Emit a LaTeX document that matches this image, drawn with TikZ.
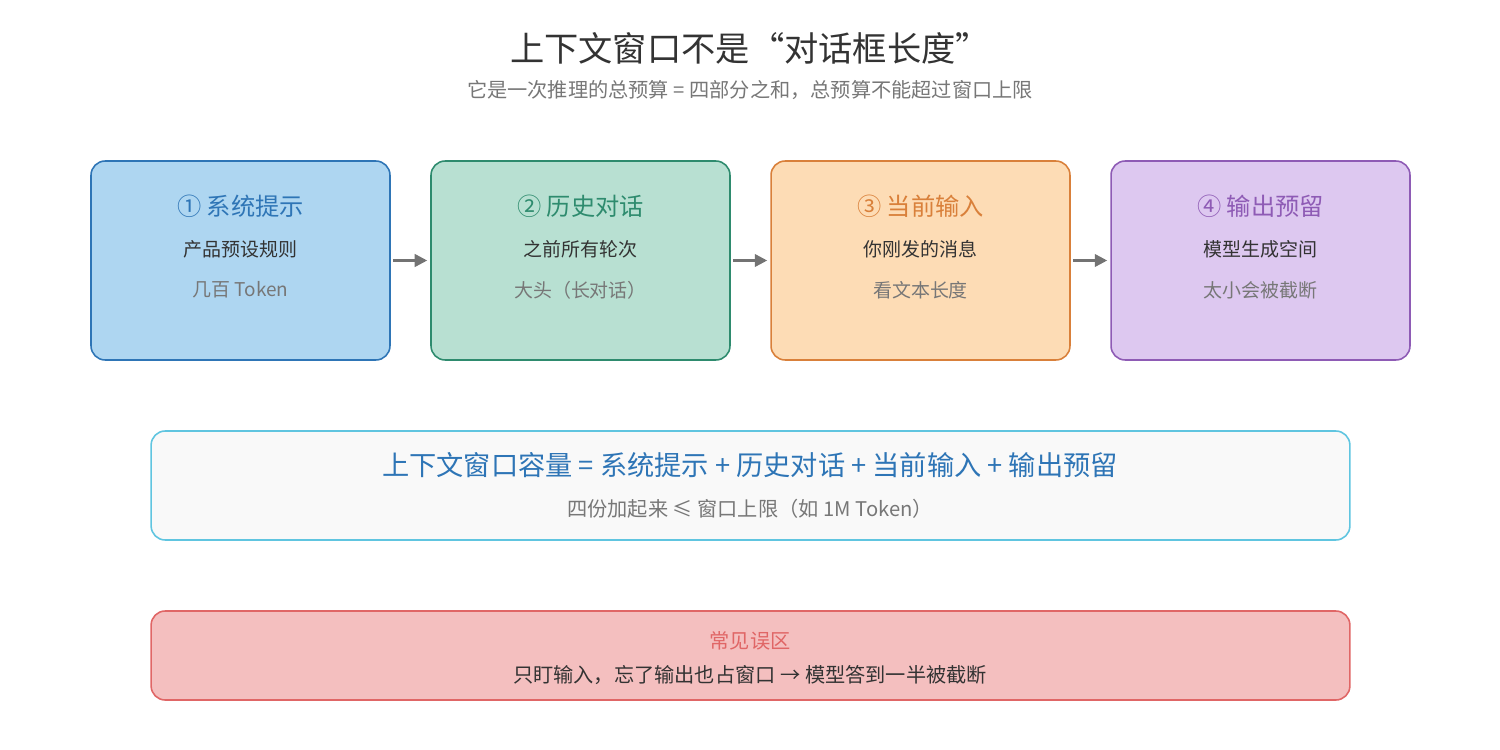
\documentclass[tikz,border=0pt]{standalone}
\usepackage{fontspec}
\setmainfont{Noto Sans CJK SC}
\usepackage{xcolor}
\usetikzlibrary{arrows.meta, positioning, calc}
\definecolor{sysblue}{HTML}{2E75B6}
\definecolor{sysfill}{HTML}{AED6F1}
\definecolor{histgreen}{HTML}{2E8B6E}
\definecolor{histfill}{HTML}{B8E0D2}
\definecolor{inorange}{HTML}{D9803A}
\definecolor{infill}{HTML}{FDDCB5}
\definecolor{outpurple}{HTML}{8E5BB5}
\definecolor{outfill}{HTML}{DDC8F0}
\definecolor{warnred}{HTML}{E06666}
\definecolor{warnfill}{HTML}{F4BFBF}
\definecolor{darktext}{HTML}{333333}
\definecolor{greytext}{HTML}{777777}

\begin{document}
\begin{tikzpicture}[x=0.02cm, y=-0.02cm,
  part/.style={rectangle, rounded corners=8pt, line width=0.9pt, minimum width=5.98cm, minimum height=3.98cm},
  head/.style={font=\fontsize{13.8}{16}\selectfont},
  line/.style={font=\fontsize{10.8}{12}\selectfont, text=darktext},
  note/.style={font=\fontsize{10.8}{12}\selectfont, text=greytext},
  arrow/.style={-{Triangle[length=2.5mm, width=2.5mm]}, draw=gray!90!black, line width=1.4pt},
  wide/.style={rectangle, rounded corners=8pt, line width=0.9pt, minimum width=23.98cm}
]
  \useasboundingbox (0,0) rectangle (1500,750);

  % Title
  \node[font=\fontsize{19.5}{22}\selectfont, text=darktext] (title) at (750, 48) {上下文窗口不是“对话框长度”};
  \node[font=\fontsize{11.5}{13}\selectfont, text=greytext] (subtitle) at (750, 90) {它是一次推理的总预算 = 四部分之和，总预算不能超过窗口上限};

  % Parts
  \node[part, draw=sysblue, fill=sysfill] (sys) at (240.5, 260.5) {};
  \node[part, draw=histgreen, fill=histfill] (hist) at (580.5, 260.5) {};
  \node[part, draw=inorange, fill=infill] (cur) at (920.5, 260.5) {};
  \node[part, draw=outpurple, fill=outfill] (out) at (1260.5, 260.5) {};

  \node[head, text=sysblue] (systitle) at (240.5, 206) {① 系统提示};
  \node[line] (sysline) at (240.5, 249) {产品预设规则};
  \node[note] (sysnote) at (240.5, 290) {几百 Token};

  \node[head, text=histgreen] (histtitle) at (580.5, 206) {② 历史对话};
  \node[line] (histline) at (580.5, 249) {之前所有轮次};
  \node[note] (histnote) at (580.5, 290) {大头（长对话）};

  \node[head, text=inorange] (curtitle) at (920.5, 206) {③ 当前输入};
  \node[line] (curline) at (920.5, 249) {你刚发的消息};
  \node[note] (curnote) at (920.5, 290) {看文本长度};

  \node[head, text=outpurple] (outtitle) at (1260.5, 206) {④ 输出预留};
  \node[line] (outline) at (1260.5, 249) {模型生成空间};
  \node[note] (outnote) at (1260.5, 290) {太小会被截断};

  % Arrows
  \draw[arrow] ($(sys.east)+(2,0)$) -- ($(hist.west)+(-3,0)$);
  \draw[arrow] ($(hist.east)+(2,0)$) -- ($(cur.west)+(-3,0)$);
  \draw[arrow] ($(cur.east)+(2,0)$) -- ($(out.west)+(-3,0)$);

  % Formula
  \node[wide, minimum height=2.18cm, draw=sysblue!60!cyan!70, fill=gray!5] (sum) at (750.5, 485.5) {};
  \node[font=\fontsize{15.5}{18}\selectfont, text=sysblue] (sumline) at (750, 465) {上下文窗口容量 = 系统提示 + 历史对话 + 当前输入 + 输出预留};
  \node[font=\fontsize{11.5}{13}\selectfont, text=greytext] (sumnote) at (750, 509) {四份加起来 ≤ 窗口上限（如 1M Token）};

  % Pitfall
  \node[wide, minimum height=1.78cm, draw=warnred, fill=warnfill] (warn) at (750.5, 655.5) {};
  \node[font=\fontsize{11.5}{13}\selectfont, text=warnred] (warntitle) at (750, 641) {常见误区};
  \node[font=\fontsize{11.5}{13}\selectfont, text=darktext] (warnline) at (750, 675) {只盯输入，忘了输出也占窗口 → 模型答到一半被截断};
\end{tikzpicture}
\end{document}
